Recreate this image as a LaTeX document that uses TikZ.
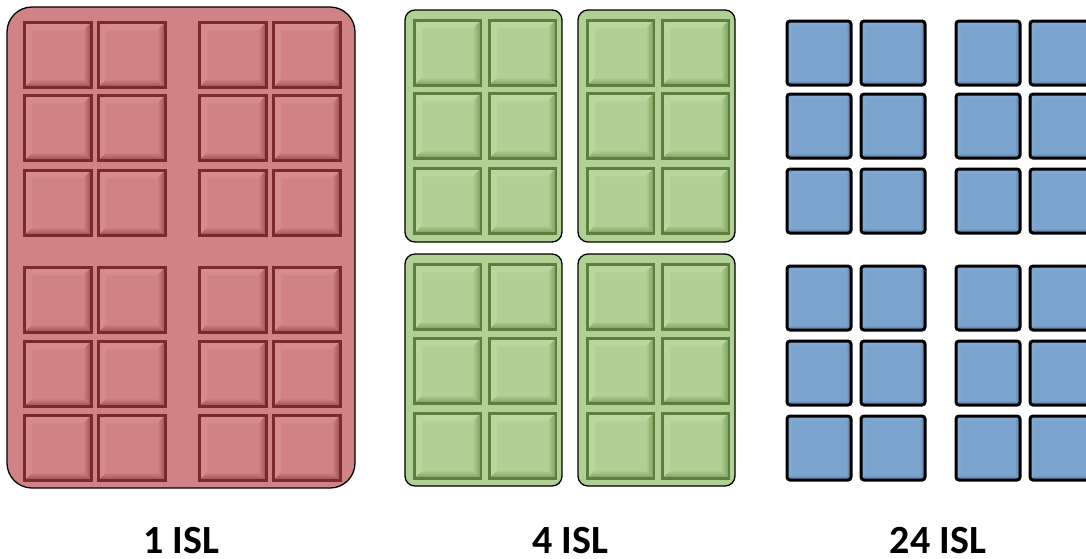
\documentclass[tikz,border=0pt]{standalone}
\usepackage{fontspec}
\setmainfont{Carlito}
\usepackage{tikz}

\definecolor{redbg}{HTML}{CF8384}
\definecolor{redline}{HTML}{7A2A2E}
\definecolor{reddark}{HTML}{9A4E51}
\definecolor{redlight}{HTML}{D48C8D}
\definecolor{greenbg}{HTML}{B1D093}
\definecolor{greenline}{HTML}{5E7E3D}
\definecolor{greendark}{HTML}{7C9D5C}
\definecolor{greenlight}{HTML}{BAD89D}
\definecolor{bluebg}{HTML}{7AA3CD}
\definecolor{bluedark}{HTML}{557699}
\definecolor{bluelight}{HTML}{80A9D2}

\tikzset{
  bevel/.style n args={5}{% line, base, dark, light, width
    draw=#1, fill=#2, inner sep=0pt, anchor=north west,
    path picture={
      \fill[#4] (path picture bounding box.north west) -- (path picture bounding box.north east)
        -- ([shift={(-#5,-#5)}]path picture bounding box.north east)
        -- ([shift={(#5,-#5)}]path picture bounding box.north west) -- cycle;
      \fill[#4] (path picture bounding box.north west) -- (path picture bounding box.south west)
        -- ([shift={(#5,#5)}]path picture bounding box.south west)
        -- ([shift={(#5,-#5)}]path picture bounding box.north west) -- cycle;
      \shade[top color=#2, bottom color=#3] (path picture bounding box.south west) -- (path picture bounding box.south east)
        -- ([shift={(-#5,#5)}]path picture bounding box.south east)
        -- ([shift={(#5,#5)}]path picture bounding box.south west) -- cycle;
      \shade[left color=#2, right color=#3] (path picture bounding box.north east) -- (path picture bounding box.south east)
        -- ([shift={(-#5,#5)}]path picture bounding box.south east)
        -- ([shift={(-#5,-#5)}]path picture bounding box.north east) -- cycle;
    }
  },
}

\begin{document}
\begin{tikzpicture}[x=1pt, y=-1pt,
  redtile/.style={bevel={redline}{redbg}{reddark}{redlight}{8pt},
    line width=2.5pt, minimum width=67pt, minimum height=65pt},
  greentile/.style={bevel={greenline}{greenbg}{greendark}{greenlight}{8pt},
    line width=2.5pt, minimum width=66.5pt, minimum height=65pt},
  bluetile/.style={bevel={black}{bluebg}{bluedark}{bluelight}{5pt},
    line width=3pt, rounded corners=3pt, minimum width=64pt, minimum height=64pt},
  panel/.style={draw=black, line width=1.3pt},
  lbl/.style={anchor=base, inner sep=0pt, font=\fontsize{40pt}{48pt}\selectfont\bfseries}]
\useasboundingbox (0,0) rectangle (1086,558);

% one island
\draw[panel, fill=redbg, rounded corners=25pt] (7,7) rectangle (355,488);
\foreach \cx [count=\i] in {23,97,198,272}
  \foreach \cy [count=\j] in {21,94,169,266,340,414}
    \node[redtile] (r\i\j) at (\cx,\cy) {};

% four islands
\draw[panel, fill=greenbg, rounded corners=10pt] (405,10) rectangle (562,242);
\draw[panel, fill=greenbg, rounded corners=10pt] (578,10) rectangle (735,242);
\draw[panel, fill=greenbg, rounded corners=10pt] (405,254) rectangle (562,486);
\draw[panel, fill=greenbg, rounded corners=10pt] (578,254) rectangle (735,486);
\foreach \cx [count=\i] in {413,488,586,661}
  \foreach \cy [count=\j] in {19,92,167,263,337,412}
    \node[greentile] (g\i\j) at (\cx,\cy) {};

% twenty-four islands
\foreach \cx [count=\i] in {785.5,859.5,954.5,1028.5}
  \foreach \cy [count=\j] in {19.5,92.5,167.5,264.5,339.5,414.5}
    \node[bluetile] (b\i\j) at (\cx,\cy) {};

\node[lbl] (isl1) at (181,553) {1 ISL};
\node[lbl] (isl4) at (570,553) {4 ISL};
\node[lbl] (isl24) at (938,553) {24 ISL};
\end{tikzpicture}
\end{document}
